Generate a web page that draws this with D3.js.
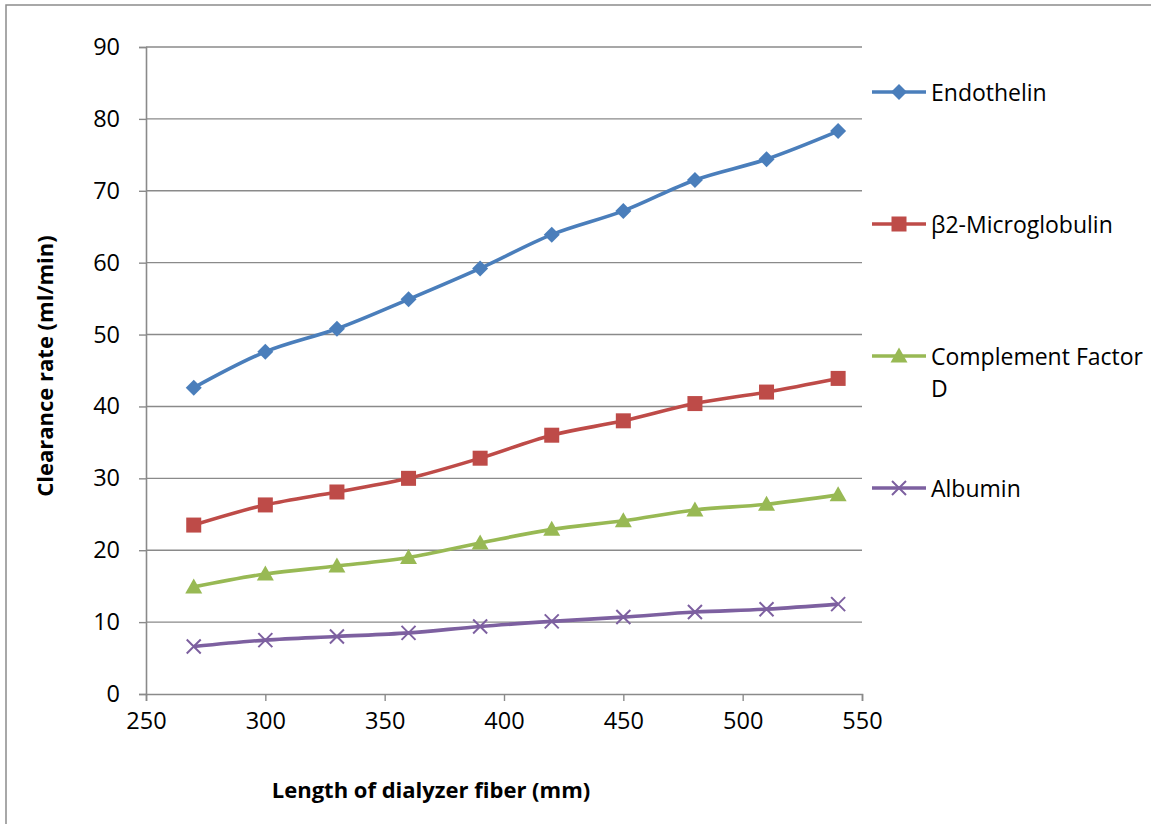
<!DOCTYPE html>
<html>
<head>
<meta charset="utf-8">
<script src="https://cdn.jsdelivr.net/npm/d3@7"></script>
<style>
  html, body { margin: 0; padding: 0; background: #fff; }
  svg { display: block; }
  text { font-family: "Open Sans", "Liberation Sans", sans-serif; fill: #000; }
</style>
</head>
<body>
<svg id="chart" width="1151" height="824"></svg>
<script>
// Fiber length (mm) on the x axis
const fiberLength = [270, 300, 330, 360, 390, 420, 450, 480, 510, 540];

// Clearance rate (ml/min) for each solute
const endothelin   = [42.6, 47.6, 50.8, 54.9, 59.2, 63.9, 67.2, 71.5, 74.4, 78.3];
const microglobulin = [23.5, 26.3, 28.1, 30.0, 32.8, 36.0, 38.0, 40.4, 42.0, 43.9];
const factorD      = [14.9, 16.7, 17.8, 19.0, 21.0, 22.9, 24.1, 25.6, 26.4, 27.7];
const albumin      = [6.6, 7.5, 8.0, 8.5, 9.4, 10.1, 10.7, 11.4, 11.8, 12.5];

const seriesNames = ["Endothelin", "\u03B22-Microglobulin", "Complement Factor D", "Albumin"];
const xTicks = [250, 300, 350, 400, 450, 500, 550];
const yTicks = [0, 10, 20, 30, 40, 50, 60, 70, 80, 90];

const series = [
  { name: seriesNames[0], values: endothelin,    color: "#4A7EBB", marker: "diamond" },
  { name: seriesNames[1], values: microglobulin, color: "#BE4B48", marker: "square" },
  { name: seriesNames[2], values: factorD,       color: "#98B954", marker: "triangle" },
  { name: seriesNames[3], values: albumin,       color: "#7D60A0", marker: "cross" }
];

const svg = d3.select("#chart");
const plot = { left: 146, right: 862, top: 47, bottom: 694 };

// Outer chart frame
svg.append("rect")
  .attr("x", 6).attr("y", 5)
  .attr("width", 1160).attr("height", 840)
  .attr("fill", "none").attr("stroke", "#8c8c8c").attr("stroke-width", 1.5);

const x = d3.scaleLinear().domain([250, 550]).range([plot.left, plot.right]);
const y = d3.scaleLinear().domain([0, 90]).range([plot.bottom, plot.top]);

// Horizontal gridlines
svg.append("g")
  .selectAll("line")
  .data(yTicks.filter(d => d > 0))
  .join("line")
  .attr("x1", plot.left).attr("x2", plot.right)
  .attr("y1", d => y(d)).attr("y2", d => y(d))
  .attr("stroke", "#8a8a8a").attr("stroke-width", 1.4);

// Y axis
const yAxis = svg.append("g")
  .attr("transform", `translate(${plot.left},0)`)
  .call(d3.axisLeft(y).tickValues(yTicks).tickSize(7).tickPadding(19).tickFormat(d3.format("d")));
yAxis.select(".domain").attr("stroke", "#8a8a8a").attr("stroke-width", 1.6);
yAxis.selectAll(".tick line").attr("stroke", "#8a8a8a").attr("stroke-width", 1.4);
yAxis.selectAll(".tick text")
  .attr("font-size", 23.5).attr("font-family", "Open Sans, sans-serif").attr("fill", "#000");

// X axis
const xAxis = svg.append("g")
  .attr("transform", `translate(0,${plot.bottom})`)
  .call(d3.axisBottom(x).tickValues(xTicks).tickSize(7).tickPadding(11).tickFormat(d3.format("d")));
xAxis.select(".domain").attr("stroke", "#8a8a8a").attr("stroke-width", 1.6);
xAxis.selectAll(".tick line").attr("stroke", "#8a8a8a").attr("stroke-width", 1.4);
xAxis.selectAll(".tick text")
  .attr("font-size", 23.5).attr("font-family", "Open Sans, sans-serif").attr("fill", "#000");

// Axis titles
svg.append("text")
  .attr("x", 431).attr("y", 798)
  .attr("text-anchor", "middle")
  .attr("font-size", 22).attr("font-weight", "bold")
  .text("Length of dialyzer fiber (mm)");

svg.append("text")
  .attr("transform", "translate(53,366) rotate(-90)")
  .attr("text-anchor", "middle")
  .attr("font-size", 22).attr("font-weight", "bold")
  .text("Clearance rate (ml/min)");

// Marker shapes
function drawMarker(g, type, color, cx, cy) {
  if (type === "diamond") {
    g.append("path").attr("d", `M${cx},${cy - 8}L${cx + 8},${cy}L${cx},${cy + 8}L${cx - 8},${cy}Z`)
      .attr("fill", color);
  } else if (type === "square") {
    g.append("rect").attr("x", cx - 7.5).attr("y", cy - 7.5).attr("width", 15).attr("height", 15)
      .attr("fill", color);
  } else if (type === "triangle") {
    g.append("path").attr("d", `M${cx},${cy - 8.5}L${cx + 8.5},${cy + 6.5}L${cx - 8.5},${cy + 6.5}Z`)
      .attr("fill", color);
  } else if (type === "cross") {
    g.append("path").attr("d", `M${cx - 7},${cy - 7}L${cx + 7},${cy + 7}M${cx + 7},${cy - 7}L${cx - 7},${cy + 7}`)
      .attr("stroke", color).attr("stroke-width", 2).attr("fill", "none");
  }
}

// Smoothed series lines with markers
const line = d3.line()
  .x((d, i) => x(fiberLength[i]))
  .y(d => y(d))
  .curve(d3.curveCatmullRom.alpha(0.5));

series.forEach(s => {
  const g = svg.append("g");
  g.append("path")
    .attr("d", line(s.values))
    .attr("fill", "none")
    .attr("stroke", s.color)
    .attr("stroke-width", 3.6)
    .attr("stroke-linejoin", "round");
  s.values.forEach((v, i) => drawMarker(g, s.marker, s.color, x(fiberLength[i]), y(v)));
});

// Legend
const legendY = [92, 224, 356, 488];
series.forEach((s, i) => {
  const g = svg.append("g");
  const ly = legendY[i];
  g.append("line")
    .attr("x1", 872).attr("x2", 926).attr("y1", ly).attr("y2", ly)
    .attr("stroke", s.color).attr("stroke-width", 3.6);
  drawMarker(g, s.marker, s.color, 899, ly);
  const t = g.append("text")
    .attr("x", 931).attr("y", ly + 8.5)
    .attr("font-size", 23);
  if (s.name === "Complement Factor D") {
    t.append("tspan").attr("x", 931).text("Complement Factor");
    t.append("tspan").attr("x", 931).attr("dy", 32).text("D");
  } else {
    t.text(s.name);
  }
});
</script>
</body>
</html>
